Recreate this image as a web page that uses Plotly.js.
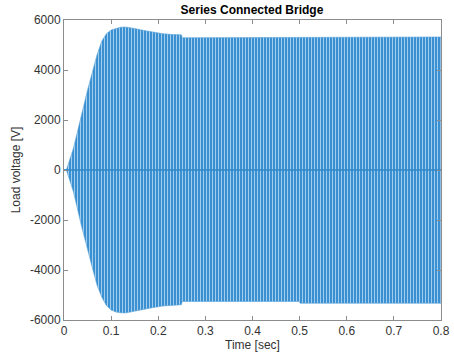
<!DOCTYPE html>
<html>
<head>
<meta charset="utf-8">
<script src="https://cdn.plot.ly/plotly-3.0.1.min.js"></script>
<style>html,body{margin:0;padding:0;background:#fff;}#chart{width:454px;height:359px;}</style>
</head>
<body>
<div id="chart"></div>
<script>
// Envelope of the load voltage
var timeUpper = [0, 0.005, 0.02, 0.0375, 0.05, 0.06, 0.07, 0.08, 0.09, 0.1, 0.11, 0.12, 0.13, 0.14, 0.15, 0.17, 0.19, 0.21, 0.23, 0.249, 0.251, 0.3, 0.4, 0.499, 0.501, 0.6, 0.7, 0.8];
var upperEnv = [0, 0, 870, 2270, 3200, 3900, 4600, 5150, 5450, 5600, 5670, 5710, 5720, 5700, 5660, 5580, 5500, 5450, 5420, 5410, 5290, 5290, 5290, 5290, 5320, 5320, 5320, 5320];
var timeLower = [0, 0.005, 0.02, 0.0375, 0.05, 0.06, 0.07, 0.08, 0.09, 0.1, 0.11, 0.12, 0.13, 0.14, 0.15, 0.17, 0.19, 0.21, 0.23, 0.249, 0.251, 0.3, 0.4, 0.499, 0.501, 0.6, 0.7, 0.8];
var lowerEnv = [0, 0, -870, -2270, -3200, -3900, -4600, -5080, -5420, -5600, -5680, -5710, -5720, -5700, -5660, -5580, -5500, -5440, -5400, -5390, -5260, -5260, -5260, -5260, -5330, -5330, -5330, -5330];
var zeroTime = [0, 0.8];
var zeroLine = [0, 0];
var yTickVals = [-6000, -4000, -2000, 0, 2000, 4000, 6000];
var yTickText = ['-6000', '-4000', '-2000', '0', '2000', '4000', '6000'];
var xTickVals = [0, 0.1, 0.2, 0.3, 0.4, 0.5, 0.6, 0.7, 0.8];
var xTickText = ['0', '0.1', '0.2', '0.3', '0.4', '0.5', '0.6', '0.7', '0.8'];

var polyX = timeUpper.concat(timeLower.slice().reverse());
var polyY = upperEnv.concat(lowerEnv.slice().reverse());

var traces = [
  {
    x: polyX, y: polyY, type: 'scatter', mode: 'lines',
    fill: 'toself', fillcolor: '#3a90d0',
    fillpattern: {shape: '|', fgcolor: '#acd2f0', bgcolor: '#3a90d0', size: 3, solidity: 0.3, fillmode: 'replace'},
    line: {width: 0.6, color: '#5aa3da'}, hoverinfo: 'skip', showlegend: false
  },
  {
    x: zeroTime, y: zeroLine, type: 'scatter', mode: 'lines',
    line: {width: 1.5, color: '#3087c9'}, hoverinfo: 'skip', showlegend: false
  }
];

var axisFont = {family: 'Liberation Sans, Arial, sans-serif', size: 12, color: '#333333'};
var layout = {
  width: 454, height: 359,
  margin: {l: 64, r: 13, t: 20, b: 39},
  paper_bgcolor: '#ffffff', plot_bgcolor: '#ffffff',
  showlegend: false,
  title: {text: '<b>Series Connected Bridge</b>', x: 0.555, xanchor: 'center', y: 0.972, yanchor: 'middle',
          font: {family: 'Liberation Sans, Arial, sans-serif', size: 12, color: '#000'}},
  xaxis: {
    range: [0, 0.8], tickvals: xTickVals, ticktext: xTickText,
    showgrid: false, zeroline: false, showline: true, mirror: 'ticks', linecolor: '#8c8c8c', linewidth: 1,
    ticks: 'inside', ticklen: 4, tickcolor: '#8c8c8c', tickfont: axisFont,
    title: {text: 'Time [sec]', font: axisFont, standoff: 3}
  },
  yaxis: {
    range: [-6000, 6000], tickvals: yTickVals, ticktext: yTickText,
    showgrid: false, zeroline: false, showline: true, mirror: 'ticks', linecolor: '#8c8c8c', linewidth: 1,
    ticks: 'inside', ticklen: 4, tickcolor: '#8c8c8c', tickfont: axisFont,
    title: {text: 'Load voltage [V]', font: axisFont, standoff: 6}
  }
};
Plotly.newPlot('chart', traces, layout, {staticPlot: true, displayModeBar: false});
</script>
</body>
</html>
